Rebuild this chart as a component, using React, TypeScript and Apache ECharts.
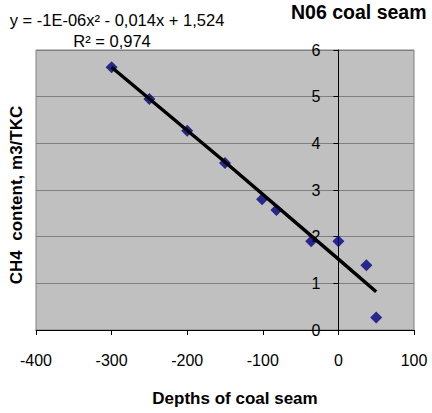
import React, { useEffect, useRef } from "react";
import * as echarts from "echarts";

const depths = [-300, -250, -200, -150, -101, -82, -36, 0, 37, 50];
const ch4 = [5.63, 4.95, 4.27, 3.58, 2.8, 2.57, 1.9, 1.9, 1.39, 0.27];
const trendX = [-300, -150, 0, 50];
const trendY = [5.63, 3.6, 1.52, 0.82];
const xTicks = [-400, -300, -200, -100, 0, 100];
const yTicks = [0, 1, 2, 3, 4, 5, 6];

const titleText = "N06 coal seam";
const eqText = "y = -1E-06x\u00b2 - 0,014x + 1,524";
const r2Text = "R\u00b2 = 0,974";
const xName = "Depths of coal seam";
const yName = "CH4  content, m3/TKC";

const FONT = "'Liberation Sans', Arial, sans-serif";

const GRID_LEFT = 36;
const GRID_RIGHT = 18;
const W = 432;
const H = 413;

export default function App() {
  const ref = useRef<HTMLDivElement>(null);
  useEffect(() => {
    document.body.style.margin = "0";
    if (!ref.current) return;
    const chart = echarts.init(ref.current, undefined, { renderer: "svg" });
    const plotW = W - GRID_LEFT - GRID_RIGHT;
    const xMin = xTicks[0];
    const xMax = xTicks[xTicks.length - 1];
    const yAxisOffset = -((0 - xMin) / (xMax - xMin)) * plotW;
    chart.setOption({
      animation: false,
      backgroundColor: "#ffffff",
      textStyle: { fontFamily: FONT },
      grid: {
        left: GRID_LEFT,
        right: GRID_RIGHT,
        top: 50,
        bottom: 83,
        show: true,
        backgroundColor: "#c0c0c0",
        borderColor: "#808080",
        borderWidth: 1,
      },
      xAxis: {
        type: "value",
        min: xMin,
        max: xMax,
        interval: 100,
        axisLine: { show: true, onZero: false, lineStyle: { color: "#000", width: 1 } },
        axisTick: { show: true, length: 5, lineStyle: { color: "#000" } },
        splitLine: { show: false },
        axisLabel: {
          margin: 22,
          fontSize: 16,
          color: "#000",
          fontFamily: FONT,
        },
      },
      yAxis: {
        type: "value",
        min: yTicks[0],
        max: yTicks[yTicks.length - 1],
        interval: 1,
        offset: yAxisOffset,
        axisLine: { show: true, onZero: false, lineStyle: { color: "#000", width: 1 } },
        axisTick: { show: true, length: 5, lineStyle: { color: "#000" } },
        splitLine: { show: true, lineStyle: { color: "#808080", width: 1 } },
        axisLabel: {
          margin: 18,
          fontSize: 16,
          color: "#000",
          fontFamily: FONT,
        },
      },
      series: [
        {
          type: "scatter",
          data: depths.map((d, i) => [d, ch4[i]]),
          symbol: "diamond",
          symbolSize: 12,
          itemStyle: { color: "#000080" },
          z: 2,
        },
        {
          type: "line",
          data: trendX.map((d, i) => [d, trendY[i]]),
          showSymbol: false,
          symbol: "none",
          smooth: false,
          lineStyle: { color: "#000", width: 3.5 },
          z: 3,
        },
      ],
      graphic: [
        {
          type: "text",
          left: 291,
          top: 2,
          style: { text: titleText, font: `bold 19.5px ${FONT}`, fill: "#000" },
        },
        {
          type: "text",
          x: 117,
          y: 20,
          style: {
            text: eqText,
            font: `16.5px ${FONT}`,
            fill: "#000",
            align: "center",
            verticalAlign: "middle",
          },
        },
        {
          type: "text",
          x: 112,
          y: 41,
          style: {
            text: r2Text,
            font: `16.5px ${FONT}`,
            fill: "#000",
            align: "center",
            verticalAlign: "middle",
          },
        },
        {
          type: "text",
          x: 235,
          y: 398,
          style: {
            text: xName,
            font: `bold 17px ${FONT}`,
            fill: "#000",
            align: "center",
            verticalAlign: "middle",
          },
        },
        {
          type: "text",
          x: 16,
          y: 195,
          rotation: Math.PI / 2,
          style: {
            text: yName,
            font: `bold 17px ${FONT}`,
            fill: "#000",
            align: "center",
            verticalAlign: "middle",
          },
        },
      ],
    });
    return () => chart.dispose();
  }, []);
  return <div ref={ref} style={{ width: W, height: H }} />;
}
